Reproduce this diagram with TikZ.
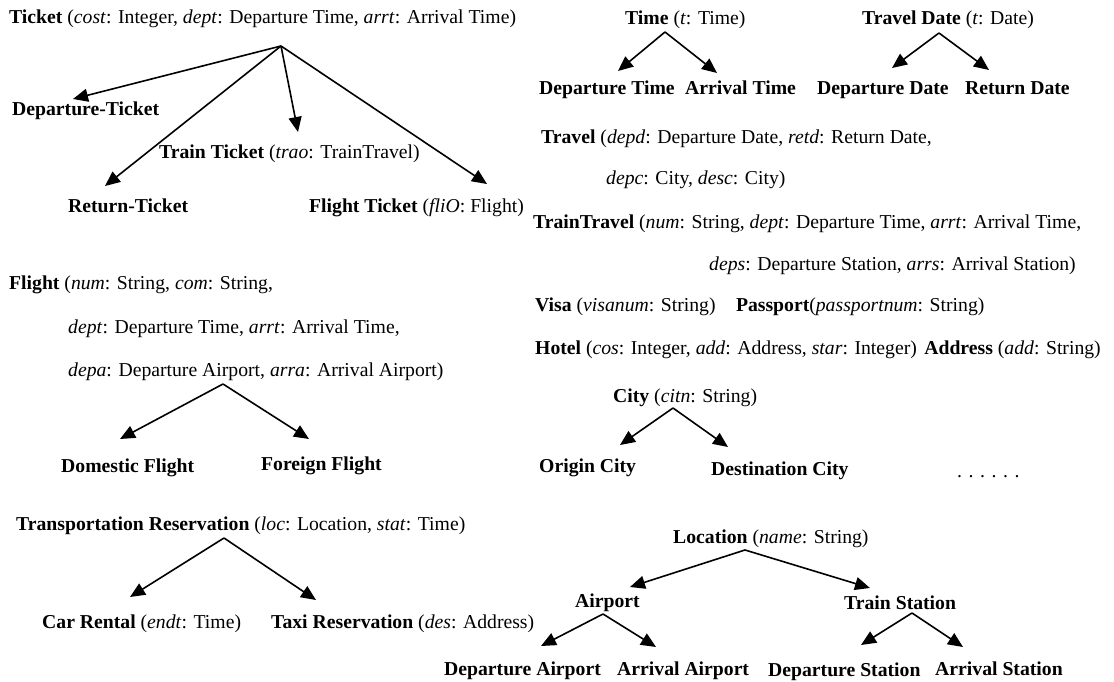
\documentclass[tikz,border=0pt]{standalone}
\usepackage{fontspec}
\setmainfont{Liberation Serif}
\usetikzlibrary{arrows.meta}
\begin{document}
\begin{tikzpicture}[x=1pt,y=-1pt,
  lbl/.style={anchor=base west, inner sep=0pt, font=\fontsize{19.7}{23}\selectfont},
  isa/.style={-{Triangle[length=15pt,width=13pt]}, line width=1.6pt}]
\useasboundingbox (0,0) rectangle (1114,682);

% ---------------- Ticket hierarchy ----------------
\node[lbl] (ticket) at (9,24) {\textbf{Ticket} (\textit{cost}: Integer, \textit{dept}: Departure Time, \textit{arrt}: Arrival Time)};
\node[lbl] (depticket) at (12,116) {\textbf{Departure-Ticket}};
\node[lbl] (trainticket) at (159,158) {\textbf{Train Ticket} (\textit{trao}: TrainTravel)};
\node[lbl] (retticket) at (68,212) {\textbf{Return-Ticket}};
\node[lbl] (flightticket) at (309,212) {\textbf{Flight Ticket} (\textit{fliO}: Flight)};
\coordinate (ticketA) at (281,46);
\coordinate (depticketT) at (73,99);
\coordinate (trainticketT) at (298,132);
\coordinate (retticketT) at (105,186);
\coordinate (flightticketT) at (487,184);
\draw[isa] (ticketA) -- (depticketT);
\draw[isa] (ticketA) -- (trainticketT);
\draw[isa] (ticketA) -- (retticketT);
\draw[isa] (ticketA) -- (flightticketT);

% ---------------- Time / Travel Date ----------------
\node[lbl] (time) at (625,25) {\textbf{Time} (\textit{t}: Time)};
\node[lbl] (deptime) at (539,95) {\textbf{Departure Time}};
\node[lbl] (arrtime) at (685,95) {\textbf{Arrival Time}};
\coordinate (timeA) at (665,32);
\coordinate (deptimeT) at (618,71);
\coordinate (arrtimeT) at (717,73);
\draw[isa] (timeA) -- (deptimeT);
\draw[isa] (timeA) -- (arrtimeT);

\node[lbl] (tdate) at (862,25) {\textbf{Travel Date} (\textit{t}: Date)};
\node[lbl] (depdate) at (817,95) {\textbf{Departure Date}};
\node[lbl] (retdate) at (965,95) {\textbf{Return Date}};
\coordinate (tdateA) at (939,33);
\coordinate (depdateT) at (892,68);
\coordinate (retdateT) at (989,70);
\draw[isa] (tdateA) -- (depdateT);
\draw[isa] (tdateA) -- (retdateT);

% ---------------- Plain concepts ----------------
\node[lbl] (travel1) at (541,143) {\textbf{Travel} (\textit{depd}: Departure Date, \textit{retd}: Return Date,};
\node[lbl] (travel2) at (606,185) {\textit{depc}: City, \textit{desc}: City)};
\node[lbl] (tt1) at (533,228) {\textbf{TrainTravel} (\textit{num}: String, \textit{dept}: Departure Time, \textit{arrt}: Arrival Time,};
\node[lbl] (tt2) at (709,270) {\textit{deps}: Departure Station, \textit{arrs}: Arrival Station)};
\node[lbl] (visa) at (535,311) {\textbf{Visa} (\textit{visanum}: String)};
\node[lbl, anchor=base west] (passport) at ([xshift=20pt]visa.base east) {\textbf{Passport}(\textit{passportnum}: String)};
\node[lbl] (hotel) at (535,354) {\textbf{Hotel} (\textit{cos}: Integer, \textit{add}: Address, \textit{star}: Integer)};
\node[lbl, anchor=base west] (address) at ([xshift=7pt]hotel.base east) {\textbf{Address} (\textit{add}: String)};

% ---------------- City ----------------
\node[lbl] (city) at (613,402) {\textbf{City} (\textit{citn}: String)};
\node[lbl] (origin) at (539,472) {\textbf{Origin City}};
\node[lbl] (dest) at (711,475) {\textbf{Destination City}};
\coordinate (cityA) at (673,408);
\coordinate (originT) at (620,445);
\coordinate (destT) at (728,447);
\draw[isa] (cityA) -- (originT);
\draw[isa] (cityA) -- (destT);
\node[lbl] (dots) at (957,477) {. . . . . .};

% ---------------- Flight ----------------
\node[lbl] (flight1) at (9,289) {\textbf{Flight} (\textit{num}: String, \textit{com}: String,};
\node[lbl] (flight2) at (68,333) {\textit{dept}: Departure Time, \textit{arrt}: Arrival Time,};
\node[lbl] (flight3) at (68,376) {\textit{depa}: Departure Airport, \textit{arra}: Arrival Airport)};
\node[lbl] (domestic) at (61,472) {\textbf{Domestic Flight}};
\node[lbl] (foreign) at (261,470) {\textbf{Foreign Flight}};
\coordinate (flightA) at (223,384);
\coordinate (domesticT) at (120,439);
\coordinate (foreignT) at (309,439);
\draw[isa] (flightA) -- (domesticT);
\draw[isa] (flightA) -- (foreignT);

% ---------------- Transportation Reservation ----------------
\node[lbl] (transp) at (16,530) {\textbf{Transportation Reservation} (\textit{loc}: Location, \textit{stat}: Time)};
\node[lbl] (car) at (42,628) {\textbf{Car Rental} (\textit{endt}: Time)};
\node[lbl] (taxi) at (271,628) {\textbf{Taxi Reservation} (\textit{des}: Address)};
\coordinate (transpA) at (224,538);
\coordinate (carT) at (130,597);
\coordinate (taxiT) at (316,600);
\draw[isa] (transpA) -- (carT);
\draw[isa] (transpA) -- (taxiT);

% ---------------- Location ----------------
\node[lbl] (location) at (673,543) {\textbf{Location} (\textit{name}: String)};
\node[lbl] (airport) at (575,607) {\textbf{Airport}};
\node[lbl] (tstation) at (844,609) {\textbf{Train Station}};
\coordinate (locationA) at (745,550);
\coordinate (airportT) at (630,587);
\coordinate (tstationT) at (870,588);
\draw[isa] (locationA) -- (airportT);
\draw[isa] (locationA) -- (tstationT);

\node[lbl] (depairport) at (444,675) {\textbf{Departure Airport}};
\node[lbl] (arrairport) at (617,675) {\textbf{Arrival Airport}};
\node[lbl] (depstation) at (768,676) {\textbf{Departure Station}};
\node[lbl] (arrstation) at (935,675) {\textbf{Arrival Station}};
\coordinate (airportA) at (603,614);
\coordinate (depairportT) at (541,646);
\coordinate (arrairportT) at (656,647);
\draw[isa] (airportA) -- (depairportT);
\draw[isa] (airportA) -- (arrairportT);
\coordinate (tstationA) at (912,613);
\coordinate (depstationT) at (861,645);
\coordinate (arrstationT) at (963,647);
\draw[isa] (tstationA) -- (depstationT);
\draw[isa] (tstationA) -- (arrstationT);
\end{tikzpicture}
\end{document}
